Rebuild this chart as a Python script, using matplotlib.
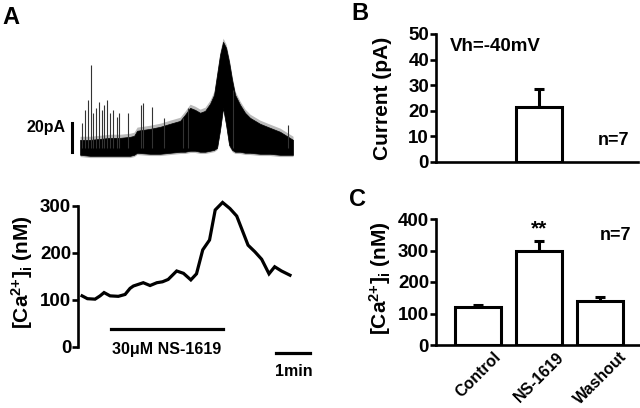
import matplotlib
matplotlib.use("Agg")
import matplotlib.pyplot as plt
import numpy as np

plt.rcParams["font.family"] = ["Liberation Sans", "DejaVu Sans"]
plt.rcParams["font.weight"] = "bold"
plt.rcParams["mathtext.fontset"] = "custom"
plt.rcParams["mathtext.rm"] = "Liberation Sans:bold"
plt.rcParams["mathtext.it"] = "Liberation Sans:bold"
plt.rcParams["mathtext.bf"] = "Liberation Sans:bold"

# --- Panel A, whole-cell current trace (envelope), time in s, current in pA
trace_t = [-3.5, 14.1, 31.8, 49.4, 67.1, 84.7, 91.8, 97.1, 120, 137.7, 155.3, 173, 181.7,
           190.6, 199.4, 208.3, 217.1, 225.9, 233, 238.3, 243.6, 248.9, 254.2, 259.5, 264.8,
           270.1, 278.9, 287.7, 296.5, 314.1, 331.8, 349.4, 372.4]
trace_hi = [10.3, 10.3, 11, 11.7, 11.7, 12.4, 13.1, 16.6, 17.9, 19.3, 21.4, 23.4, 27.6,
            32.4, 31, 29, 30.3, 35.2, 41.4, 55.2, 69, 77.9, 73.8, 64.1, 51.7,
            41.4, 34.5, 29, 25.5, 21.4, 18.6, 15.9, 10.3]
trace_lo = [0, -0.7, -0.7, -0.7, -0.7, -0.7, 0, 1.4, 0.7, 0.7, 1.4, 2.1, 2.1,
            2.8, 2.8, 2.1, 2.1, 2.8, 3.4, 4.8, 17.2, 32.4, 20.7, 6.9, 3.4,
            2.1, 2.1, 1.4, 1.4, 0.7, 0.7, 0, 0]
spike_t = [-0.5, 5.3, 10, 15.9, 19.4, 24.2, 30, 34.8, 38.8, 44, 49.4, 54.7, 61, 65.3,
           81, 104, 107.7, 123.6, 144.7, 178, 187, 266.5, 363.6]
spike_top = [22, 31, 38, 62, 29, 32, 36.6, 31, 34.5, 38, 29, 31, 26, 29,
             29, 34.5, 35.9, 33, 25.5, 25.5, 32.4, 45, 20.7]

# --- Panel A, [Ca2+]i time course
ca_t = [0, 9.4, 22.9, 31.8, 38.8, 49.4, 64, 75.9, 84.7, 90.6, 108, 120, 132, 142, 152,
        167, 179, 192, 202, 213, 225, 235, 248, 261, 273, 293, 305, 317, 330, 340, 352, 367]
ca_val = [108, 102, 101, 108, 115, 108, 107, 111, 124, 129, 136, 130, 136, 138, 143,
          161, 156, 142, 155, 206, 227, 291, 307, 294, 278, 216, 202, 186, 155, 170, 161, 152]
drug_on, drug_off = 51, 249

# --- Panel B
b_pos = [1]
b_mean = [21.5]
b_err = [7]

# --- Panel C
c_labels = ["Control", "NS-1619", "Washout"]
c_mean = [121, 298, 140]
c_err = [6, 32, 12]

LW = 1.9
CA_LABEL = r"[Ca$^{2{+}}$]$_{\rm i}$ (nM)"
fig = plt.figure(figsize=(6.4, 4.08), dpi=100)

# top trace
ax_tr = fig.add_axes([0.122, 0.596, 0.378, 0.331])
hi = np.array(trace_hi)
lo = np.array(trace_lo)
ax_tr.fill_between(trace_t, lo - 1.2, hi + 2.5, color="#777777", alpha=0.5, linewidth=0)
ax_tr.fill_between(trace_t, lo, hi, color="black", linewidth=0.5)
ax_tr.vlines(spike_t, 5, spike_top, color="#333333", linewidth=0.8)
ax_tr.set_xlim(-7.06, 420)
ax_tr.set_ylim(-6.9, 86.2)
ax_tr.axis("off")
ax_tr.plot([-17.6, -17.6], [2, 22], color="black", linewidth=2.2, clip_on=False)
ax_tr.text(-30, 19, "20pA", ha="right", va="center", fontsize=11.5, fontweight="bold")

# calcium time course
ax_ca = fig.add_axes([0.122, 0.069, 0.378, 0.453])
ax_ca.plot(ca_t, ca_val, color="black", linewidth=2.3, solid_joinstyle="miter")
ax_ca.plot([drug_on, drug_off], [38, 38], color="black", linewidth=2.3)
ax_ca.text((drug_on + drug_off) / 2, -7, "30\u03bcM NS-1619", ha="center", va="center",
           fontsize=11.5, fontweight="bold")
ax_ca.plot([343, 403], [-14, -14], color="black", linewidth=2.3, clip_on=False)
ax_ca.text(373, -53, "1min", ha="center", va="center", fontsize=11.5, fontweight="bold")
ax_ca.set_xlim(-7.06, 420)
ax_ca.set_ylim(-70.9, 322.8)
ax_ca.set_yticks([0, 100, 200, 300])
ax_ca.spines["left"].set_bounds(0, 300)
for s in ["top", "right", "bottom"]:
    ax_ca.spines[s].set_visible(False)
ax_ca.spines["left"].set_linewidth(LW)
ax_ca.set_xticks([])
ax_ca.tick_params(axis="y", length=4, width=LW, pad=1, labelsize=13.5)
fig.text(22 / 640, 1 - 272 / 408, CA_LABEL, rotation=90,
         ha="center", va="center", fontsize=15, fontweight="bold")

# panel B
ax_b = fig.add_axes([436 / 640, 1 - 162 / 408, 202 / 640, 128 / 408])
ax_b.bar(b_pos, b_mean, width=0.75, color="white", edgecolor="black", linewidth=2.2, zorder=3)
ax_b.errorbar(b_pos, b_mean, yerr=[[0] * len(b_err), b_err], fmt="none", ecolor="black",
              elinewidth=2.2, capsize=3.6, capthick=2.2, zorder=2)
ax_b.set_xlim(-0.69, 2.62)
ax_b.set_ylim(0, 50)
ax_b.set_yticks([0, 10, 20, 30, 40, 50])
ax_b.set_xticks([])
for s in ["top", "right"]:
    ax_b.spines[s].set_visible(False)
for s in ["left", "bottom"]:
    ax_b.spines[s].set_linewidth(LW)
ax_b.tick_params(axis="y", length=4, width=LW, pad=1, labelsize=13.5)
ax_b.text(0.07, 0.9, "Vh=-40mV", transform=ax_b.transAxes, ha="left", va="center",
          fontsize=13.5, fontweight="bold")
ax_b.text(0.88, 0.17, "n=7", transform=ax_b.transAxes, ha="center", va="center",
          fontsize=13, fontweight="bold")
fig.text(383 / 640, 1 - 98.5 / 408, "Current (pA)", rotation=90, ha="center", va="center",
         fontsize=15, fontweight="bold")

# panel C
ax_c = fig.add_axes([436 / 640, 1 - 345 / 408, 204 / 640, 126 / 408])
xc = np.arange(len(c_labels))
ax_c.bar(xc, c_mean, width=0.75, color="white", edgecolor="black", linewidth=2.2, zorder=3)
ax_c.errorbar(xc, c_mean, yerr=[[0] * len(c_err), c_err], fmt="none", ecolor="black",
              elinewidth=2.2, capsize=3.6, capthick=2.2, zorder=2)
ax_c.set_xlim(-0.69, 2.65)
ax_c.set_ylim(0, 400)
ax_c.set_yticks([0, 100, 200, 300, 400])
ax_c.set_xticks(xc)
ax_c.set_xticklabels(c_labels, rotation=45, ha="center", fontsize=11.5, fontweight="bold")
for s in ["top", "right"]:
    ax_c.spines[s].set_visible(False)
for s in ["left", "bottom"]:
    ax_c.spines[s].set_linewidth(LW)
ax_c.tick_params(axis="y", length=4, width=LW, pad=1, labelsize=13.5)
ax_c.tick_params(axis="x", length=0, pad=3)
ax_c.text(1, 370, "**", ha="center", va="center", fontsize=15, fontweight="bold")
ax_c.text(0.88, 0.87, "n=7", transform=ax_c.transAxes, ha="center", va="center",
          fontsize=13, fontweight="bold")
fig.text(380 / 640, 1 - 278 / 408, CA_LABEL, rotation=90,
         ha="center", va="center", fontsize=15, fontweight="bold")

# panel letters
fig.text(2 / 640, 1 - 17 / 408, "A", ha="left", va="center", fontsize=17, fontweight="bold")
fig.text(351 / 640, 1 - 13 / 408, "B", ha="left", va="center", fontsize=17, fontweight="bold")
fig.text(349 / 640, 1 - 199 / 408, "C", ha="left", va="center", fontsize=17, fontweight="bold")

fig.savefig("out.png", dpi=100)
